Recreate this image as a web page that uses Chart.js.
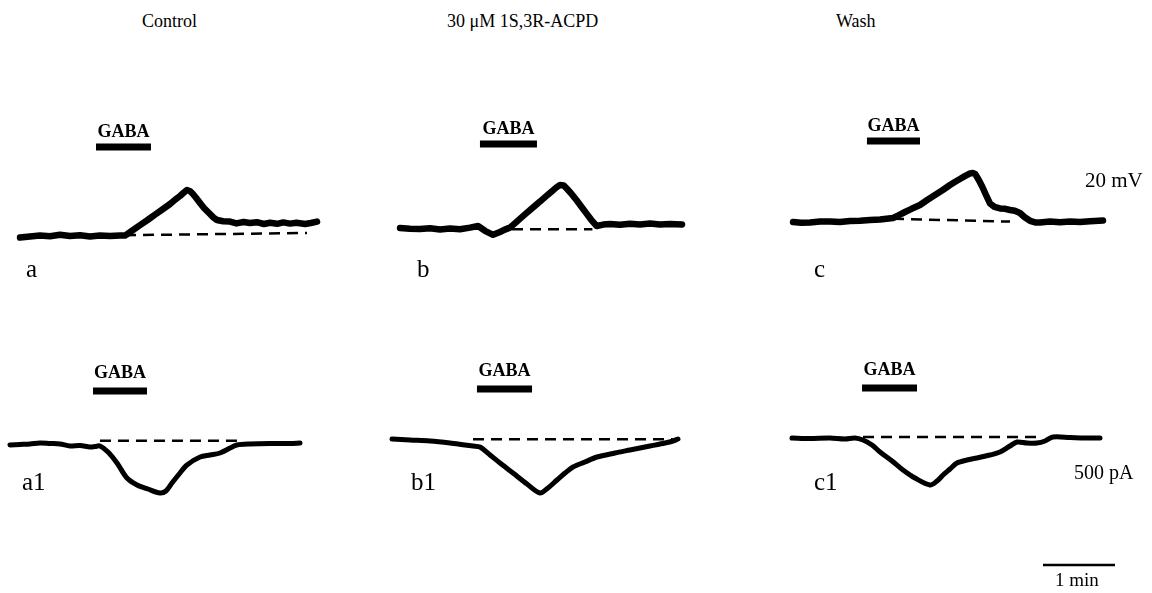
<!DOCTYPE html>
<html>
<head>
<meta charset="utf-8">
<script src="https://cdn.jsdelivr.net/npm/chart.js@4.4.1/dist/chart.umd.min.js"></script>
<style>
  html, body { margin: 0; padding: 0; background: #fff; }
  #wrap { position: relative; width: 1152px; height: 593px; overflow: hidden; background: #fff; }
  canvas { position: absolute; }
  .t { position: absolute; font-family: "Liberation Serif", "Times New Roman", serif; color: #000; white-space: nowrap; line-height: 1; }
</style>
</head>
<body>
<div id="wrap">
  <canvas id="pa"></canvas><canvas id="pb"></canvas><canvas id="pc"></canvas>
  <canvas id="pa1"></canvas><canvas id="pb1"></canvas><canvas id="pc1"></canvas>

  <div class="t" style="left:142px;top:12px;font-size:18px;">Control</div>
  <div class="t" style="left:447px;top:12px;font-size:18px;">30 μM 1S,3R-ACPD</div>
  <div class="t" style="left:836px;top:12px;font-size:18px;">Wash</div>

  <div class="t" style="left:26px;top:256px;font-size:25px;">a</div>
  <div class="t" style="left:417px;top:256px;font-size:25px;">b</div>
  <div class="t" style="left:814px;top:256px;font-size:25px;">c</div>

  <div class="t" style="left:22px;top:469px;font-size:25px;">a1</div>
  <div class="t" style="left:411px;top:469px;font-size:25px;">b1</div>
  <div class="t" style="left:814px;top:469px;font-size:25px;">c1</div>

  <div class="t" style="left:1085px;top:170px;font-size:21px;">20 mV</div>
  <div class="t" style="left:1074px;top:462px;font-size:20px;">500 pA</div>
  <div class="t" style="left:1055px;top:570px;font-size:19px;">1 min</div>
</div>
<script>
// ---------------- DATA ----------------
// time in seconds from start of each sweep; voltage in mV (relative); current in pA (relative)
const gabaA = [80, 125.8];
const gabaB = [83.3, 130.8];
const gabaC = [80.8, 125];
const gabaA1 = [77.5, 122.5];
const gabaB1 = [80.8, 126.7];
const gabaC1 = [76.7, 122.5];

// Control, voltage
const tA = [16.7, 25, 33.3, 41.7, 50, 58.3, 66.7, 75, 83.3, 91.7, 100, 104.2, 110, 116.7, 123, 129.2, 135, 141.7, 146, 150, 153, 155.8, 158.5, 160.8, 163.5, 166.7, 170, 175, 178, 180.8, 186, 191.7, 197, 203, 208.3, 214, 220, 225, 231, 236, 241.7, 247, 254.2, 259, 264.2];
const vA = [-0.8, -0.2, 0.3, -0.1, 0.6, 0, 0.4, -0.2, 0.2, 0, 0.3, 0.2, 2.6, 5.4, 8.0, 10.7, 13.1, 16.0, 18.2, 20.0, 21.6, 23, 22.4, 21, 19, 16.5, 14, 11, 9.2, 8, 7.4, 7.2, 6.3, 7.0, 6.5, 6.9, 6.0, 6.6, 6.1, 6.8, 6.2, 6.6, 6.0, 6.5, 7.2];
const dashA = { t: [104.2, 255.8], v: [0.4, 1.5] };

// 30 uM 1S,3R-ACPD, voltage
const tB = [16.7, 25, 33.3, 41.7, 50, 58.3, 66.7, 75, 81.7, 87.5, 94.2, 100, 104, 108.3, 114, 120.8, 127, 133.3, 138, 143.3, 147, 150, 153, 156, 160, 164, 168, 172, 176, 180.6, 186, 191.7, 200, 208.3, 216.7, 225, 233.3, 241.7, 251.7];
const vB = [4, 3.6, 3.5, 3.9, 3.3, 3.7, 3.4, 4.2, 5, 2.6, 0.6, 2, 3.2, 4.2, 7.2, 10.8, 14.0, 17.2, 19.7, 22.4, 24.3, 25.5, 25.3, 23.5, 20.8, 17.7, 14.5, 11.3, 8.1, 5, 5.7, 6, 5.6, 6.1, 5.8, 6.2, 5.7, 6, 5.8];
const dashB = { t: [110, 177], v: [3.4, 3.4] };

// Wash, voltage
const tC = [19.2, 26, 33.3, 41.7, 50, 58.3, 66.7, 75, 83.3, 91.7, 102.5, 107, 112.5, 118, 125, 131, 137.5, 144, 150, 154, 158.3, 162, 166.7, 169, 171, 174, 177, 180, 183.3, 187, 191.7, 196, 200, 204, 208.3, 212, 216.7, 221, 225, 233.3, 241.7, 250, 258.3, 266.7, 277.5];
const vC = [7, 6.6, 6.8, 7.2, 7.3, 7, 7.5, 7.6, 8, 8.2, 9, 10.3, 12, 13.6, 15.5, 18, 20.5, 23, 25.5, 27, 28.5, 29.8, 31.3, 31.5, 31, 28, 24.5, 20.5, 16.3, 14.6, 13.8, 13.6, 13, 12.6, 11.5, 9.5, 7.6, 6.8, 6.7, 7.2, 6.9, 7.3, 7, 7.4, 7.8];
const dashC = { t: [102.5, 200], v: [8.6, 7.2] };

// Control, current
const tA1 = [8.3, 16.7, 25, 33.3, 41.7, 50, 58.3, 66.7, 75, 79.2, 83.3, 90, 97.5, 105.8, 114.2, 123.3, 133.3, 138.3, 143.3, 150, 155.8, 166.7, 175, 183.3, 191.7, 197.5, 208.3, 225, 241.7, 250];
const iA1 = [0, 5, 10, 20, 15, 10, -10, -5, -20, -15, -10, -70, -180, -330, -400, -440, -480, -460, -380, -280, -200, -120, -100, -80, -30, 0, 10, 15, 15, 20];
const dashA1 = { t: [83.3, 200], v: [43, 43] };

// 30 uM 1S,3R-ACPD, current
const tB1 = [10, 25, 41.7, 58.3, 70.8, 77.5, 83.3, 91.7, 100, 110.8, 122.5, 133.3, 140, 147.5, 154.2, 160.8, 170.8, 180.8, 195.8, 208.3, 225, 237.5, 244.2, 248.3];
const iB1 = [60, 50, 40, 20, 0, -10, -20, -100, -180, -280, -390, -480, -430, -350, -280, -220, -170, -120, -80, -50, -10, 20, 40, 60];
const dashB1 = { t: [77.5, 244], v: [57, 57] };

// Wash, current
const tC1 = [18.3, 33.3, 50, 62.5, 70.8, 77.5, 85, 91.7, 101.7, 110.8, 120.8, 133.3, 139.2, 144.2, 150, 155.8, 164.2, 172.5, 183.3, 191.7, 200, 205.8, 214.2, 222.5, 229.2, 235.8, 250, 262.5, 275];
const iC1 = [70, 65, 70, 60, 70, 50, 0, -70, -160, -250, -330, -400, -360, -300, -240, -180, -150, -130, -100, -70, -10, 30, 20, 20, 40, 80, 75, 70, 70];
const dashC1 = { t: [77.5, 225], v: [80, 80] };

const scaleBarSec = 60;      // "1 min" calibration
const scaleBarStart = 227.5; // s, in the Wash current sweep

// ---------------- DRAWING ----------------
const PX_PER_S = 1.2;
const COL_LEFT = [0, 380, 770];
const CANVAS_W = 348;
const XMAX = CANVAS_W / PX_PER_S;

const decor = {
  id: 'decor',
  afterDatasetsDraw(chart, args, opts) {
    const ctx = chart.ctx, xs = chart.scales.x;
    ctx.save();
    if (opts.gaba) {
      const x0 = xs.getPixelForValue(opts.gaba[0]);
      const x1 = xs.getPixelForValue(opts.gaba[1]);
      ctx.strokeStyle = '#000';
      ctx.lineWidth = 7;
      ctx.lineCap = 'butt';
      ctx.beginPath(); ctx.moveTo(x0, opts.barY); ctx.lineTo(x1, opts.barY); ctx.stroke();
      ctx.fillStyle = '#000';
      ctx.font = 'bold 18px "Liberation Serif", serif';
      ctx.textAlign = 'center';
      ctx.textBaseline = 'alphabetic';
      ctx.fillText('GABA', (x0 + x1) / 2, opts.barY - opts.textGap);
    }
    if (opts.scaleBar) {
      const x0 = xs.getPixelForValue(opts.scaleBar[0]);
      const x1 = xs.getPixelForValue(opts.scaleBar[0] + opts.scaleBar[1]);
      ctx.lineWidth = 2.5;
      ctx.beginPath(); ctx.moveTo(x0, opts.scaleBarY); ctx.lineTo(x1, opts.scaleBarY); ctx.stroke();
    }
    ctx.restore();
  }
};

function pts(t, v) { return t.map((x, i) => ({ x: x, y: v[i] })); }

function makePanel(id, col, top, height, ymin, ymax, t, v, dash, gaba, barY, textGap, lw, tension, extra) {
  const cv = document.getElementById(id);
  cv.width = CANVAS_W; cv.height = height;
  cv.style.left = COL_LEFT[col] + 'px';
  cv.style.top = top + 'px';
  cv.style.width = CANVAS_W + 'px'; cv.style.height = height + 'px';
  const decorOpts = Object.assign({ gaba: gaba, barY: barY, textGap: textGap }, extra || {});
  new Chart(cv, {
    type: 'line',
    data: {
      datasets: [
        { data: pts(t, v), borderColor: '#000', borderWidth: lw, pointRadius: 0, tension: tension,
          borderJoinStyle: 'round', borderCapStyle: 'round', fill: false, clip: false },
        { data: pts(dash.t, dash.v), borderColor: '#000', borderWidth: 2.5, borderDash: [11, 7],
          pointRadius: 0, tension: 0, fill: false, clip: false }
      ]
    },
    options: {
      responsive: false, animation: false, events: [],
      layout: { padding: 0 },
      scales: {
        x: { type: 'linear', min: 0, max: XMAX, display: false },
        y: { type: 'linear', min: ymin, max: ymax, display: false }
      },
      plugins: { legend: { display: false }, tooltip: { enabled: false }, decor: decorOpts }
    },
    plugins: [decor]
  });
}

// top row: 2 px per mV, 0 mV at page y=236
const TOP_Y = 100, TOP_H = 170, V_MAX = 68, V_MIN = 68 - TOP_H / 2;
makePanel('pa', 0, TOP_Y, TOP_H, V_MIN, V_MAX, tA, vA, dashA, gabaA, 47, 10, 6.5, 0, null);
makePanel('pb', 1, TOP_Y, TOP_H, V_MIN, V_MAX, tB, vB, dashB, gabaB, 44, 10, 6.5, 0, null);
makePanel('pc', 2, TOP_Y, TOP_H, V_MIN, V_MAX, tC, vC, dashC, gabaC, 41, 10, 6.5, 0, null);

// bottom row: 10 pA per px, 0 pA at page y=445
const BOT_Y = 340, BOT_H = 253, I_MAX = 1050, I_MIN = 1050 - BOT_H * 10;
makePanel('pa1', 0, BOT_Y, BOT_H, I_MIN, I_MAX, tA1, iA1, dashA1, gabaA1, 51, 13, 5, 0.3, null);
makePanel('pb1', 1, BOT_Y, BOT_H, I_MIN, I_MAX, tB1, iB1, dashB1, gabaB1, 49, 13, 5, 0.3, null);
makePanel('pc1', 2, BOT_Y, BOT_H, I_MIN, I_MAX, tC1, iC1, dashC1, gabaC1, 48, 13, 5, 0.3,
  { scaleBar: [scaleBarStart, scaleBarSec], scaleBarY: 225 });
</script>
</body>
</html>
